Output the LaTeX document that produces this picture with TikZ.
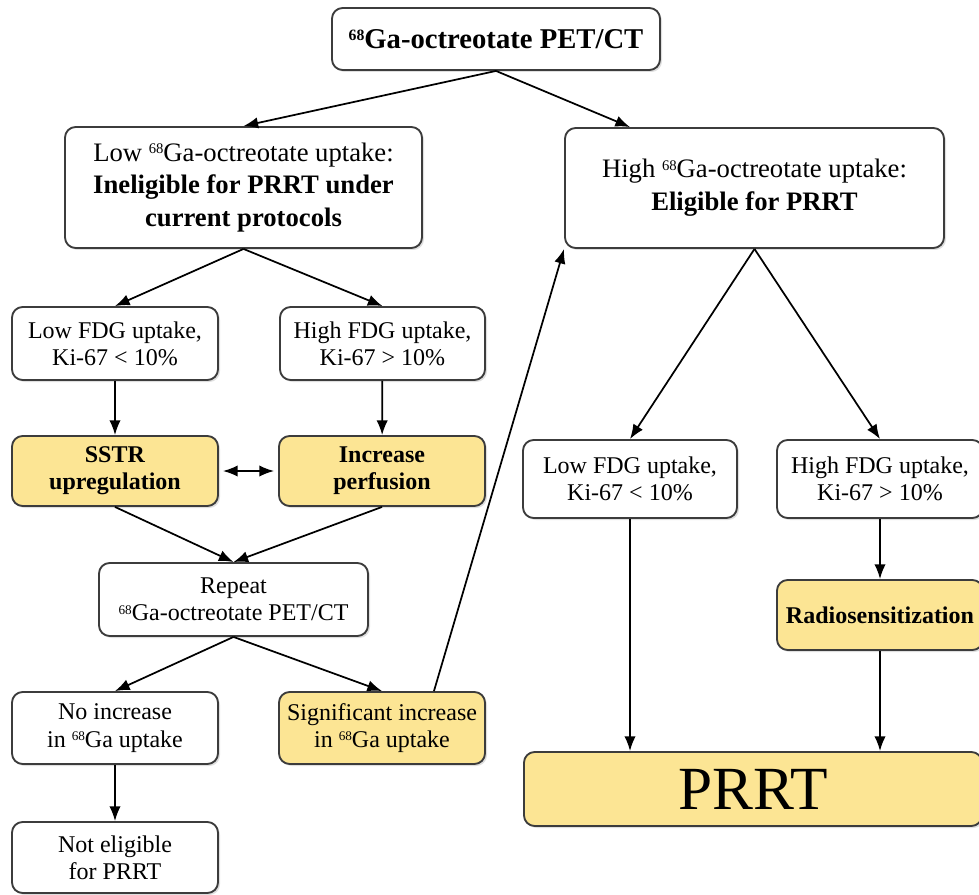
\documentclass[tikz,border=0pt]{standalone}
\usepackage{fontspec}
\usepackage{graphicx}
\setmainfont{Liberation Serif}
\usetikzlibrary{arrows.meta,calc,shadows}
\definecolor{boxyellow}{RGB}{252,229,148}
\definecolor{boxline}{RGB}{60,60,60}
\newcommand{\gasix}{\raisebox{0.62ex}{\scalebox{0.55}{68}}}

\begin{document}
\begin{tikzpicture}[x=0.75pt, y=-0.75pt, >={Latex[length=11pt,width=8.5pt]},
    box/.style={draw=boxline, line width=1.4pt, rounded corners=8pt, fill=white, align=center, inner sep=0pt,
        drop shadow={opacity=0.25, shadow xshift=1.5pt, shadow yshift=-1.5pt}},
    bigbox/.style={box, font=\fontsize{20}{24.5}\selectfont},
    smallbox/.style={box, font=\fontsize{18}{20.5}\selectfont},
    hilite/.style={fill=boxyellow}]
    \useasboundingbox (0,0) rectangle (979,895);

    %Nodes
    \node[box, font=\fontsize{21.5}{25}\selectfont, minimum width=328*0.75pt, minimum height=62*0.75pt] at (496, 39) (top) {\textbf{\gasix Ga-octreotate PET/CT}};
    \node[bigbox, minimum width=357*0.75pt, minimum height=121*0.75pt] at (243.5, 187.5) (lowup) {Low \gasix Ga-octreotate uptake:\\\textbf{Ineligible for PRRT under}\\\textbf{current protocols}};
    \node[bigbox, minimum width=379*0.75pt, minimum height=120*0.75pt] at (754.5, 188) (highup) {High \gasix Ga-octreotate uptake:\\\textbf{Eligible for PRRT}};

    \node[smallbox, minimum width=206*0.75pt, minimum height=73*0.75pt] at (115, 343.5) (lfdgL) {Low FDG uptake,\\Ki-67 < 10\%};
    \node[smallbox, minimum width=205*0.75pt, minimum height=73*0.75pt] at (382.5, 343.5) (hfdgL) {High FDG uptake,\\Ki-67 > 10\%};
    \node[smallbox, hilite, minimum width=206*0.75pt, minimum height=70*0.75pt] at (115, 471) (sstr) {\textbf{SSTR}\\\textbf{upregulation}};
    \node[smallbox, hilite, minimum width=206*0.75pt, minimum height=70*0.75pt] at (382, 471) (perf) {\textbf{Increase}\\\textbf{perfusion}};
    \node[smallbox, minimum width=269*0.75pt, minimum height=73*0.75pt] at (233.5, 599.5) (repeat) {Repeat\\\gasix Ga-octreotate PET/CT};
    \node[smallbox, minimum width=206*0.75pt, minimum height=72*0.75pt] at (115, 728) (noinc) {No increase\\in \gasix Ga uptake};
    \node[smallbox, hilite, minimum width=206*0.75pt, minimum height=72*0.75pt] at (382, 728) (siginc) {Significant increase\\in \gasix Ga uptake};
    \node[smallbox, minimum width=206*0.75pt, minimum height=71*0.75pt] at (115, 857.5) (noteli) {Not eligible\\for PRRT};

    \node[smallbox, minimum width=214*0.75pt, minimum height=78*0.75pt] at (630, 479) (lfdgR) {Low FDG uptake,\\Ki-67 < 10\%};
    \node[smallbox, minimum width=206*0.75pt, minimum height=78*0.75pt] at (880, 479) (hfdgR) {High FDG uptake,\\Ki-67 > 10\%};
    \node[smallbox, hilite, minimum width=206*0.75pt, minimum height=70*0.75pt] at (880, 615) (radio) {\textbf{Radiosensitization}};
    \node[box, hilite, font=\fontsize{46}{50}\selectfont, minimum width=458*0.75pt, minimum height=74*0.75pt] at (753, 789) (prrt) {PRRT};

    %Lines
    \draw[->, line width=1.3pt] (top.south) -- (lowup.north);
    \draw[->, line width=1.3pt] (top.south) -- (highup.north -| lfdgR);
    \draw[->, line width=1.3pt] (lowup.south) -- (lfdgL.north);
    \draw[->, line width=1.3pt] (lowup.south) -- (hfdgL.north);
    \draw[->, line width=1.3pt] (lfdgL) -- (sstr);
    \draw[->, line width=1.3pt] (hfdgL) -- (perf);
    \draw[<->, line width=1.3pt, shorten <=3pt, shorten >=3pt] (sstr) -- (perf);
    \draw[->, line width=1.3pt] (sstr.south) -- (repeat.north);
    \draw[->, line width=1.3pt] (perf.south) -- (repeat.north);
    \draw[->, line width=1.3pt] (repeat.south) -- (noinc.north);
    \draw[->, line width=1.3pt] (repeat.south) -- (siginc.north);
    \draw[->, line width=1.3pt] (noinc) -- (noteli);
    \draw[->, line width=1.3pt] ($(siginc.north)!0.5!(siginc.north east)$) -- (highup.south west);

    \draw[->, line width=1.3pt] (highup.south) -- (lfdgR.north);
    \draw[->, line width=1.3pt] (highup.south) -- (hfdgR.north);
    \draw[->, line width=1.3pt] (lfdgR.south) -- (lfdgR.south |- prrt.north);
    \draw[->, line width=1.3pt] (hfdgR) -- (radio);
    \draw[->, line width=1.3pt] (radio.south) -- (radio.south |- prrt.north);

\end{tikzpicture}
\end{document}
